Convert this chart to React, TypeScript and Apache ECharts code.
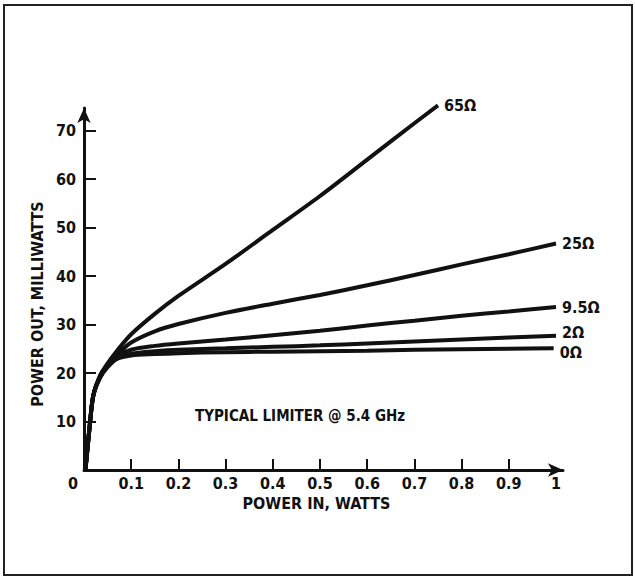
import React, { useEffect, useRef } from "react";
import * as echarts from "echarts";

const seriesNames = ["65Ω", "25Ω", "9.5Ω", "2Ω", "0Ω"];

const ohm65: [number, number][] = [
  [0.003, 0], [0.013, 10], [0.02, 15.5], [0.034, 19.5], [0.05, 22], [0.07, 24.6],
  [0.1, 28], [0.15, 32.2], [0.2, 35.9], [0.3, 42.5], [0.4, 49.5], [0.5, 56.5],
  [0.6, 64], [0.7, 71.5], [0.75, 75.2],
];
const ohm25: [number, number][] = [
  [0.003, 0], [0.013, 10], [0.02, 15.5], [0.034, 19.3], [0.05, 21.7], [0.07, 23.8],
  [0.1, 26.3], [0.15, 28.6], [0.2, 30.1], [0.3, 32.4], [0.4, 34.3], [0.5, 36.1],
  [0.6, 38.1], [0.7, 40.2], [0.8, 42.4], [0.9, 44.5], [1.0, 46.7],
];
const ohm9_5: [number, number][] = [
  [0.003, 0], [0.013, 10], [0.02, 15.5], [0.034, 19.2], [0.05, 21.5], [0.07, 23.5],
  [0.1, 24.8], [0.15, 25.6], [0.2, 26.1], [0.3, 26.9], [0.4, 27.8], [0.5, 28.7],
  [0.6, 29.8], [0.7, 30.8], [0.8, 31.8], [0.9, 32.7], [1.0, 33.6],
];
const ohm2: [number, number][] = [
  [0.003, 0], [0.013, 10], [0.02, 15.5], [0.034, 19.1], [0.05, 21.4], [0.07, 23.2],
  [0.1, 24.0], [0.15, 24.5], [0.2, 24.8], [0.3, 25.1], [0.4, 25.4], [0.5, 25.7],
  [0.6, 26.1], [0.7, 26.5], [0.8, 26.9], [0.9, 27.3], [1.0, 27.7],
];
const ohm0: [number, number][] = [
  [0.003, 0], [0.013, 10], [0.02, 15.5], [0.034, 19.0], [0.05, 21.2], [0.07, 22.9],
  [0.1, 23.6], [0.15, 23.9], [0.2, 24.1], [0.3, 24.3], [0.4, 24.4], [0.5, 24.5],
  [0.6, 24.6], [0.7, 24.8], [0.8, 24.9], [0.9, 25.0], [0.995, 25.1],
];

const xTickValues = [0.1, 0.2, 0.3, 0.4, 0.5, 0.6, 0.7, 0.8, 0.9];
const xLabelValues = [0, 0.1, 0.2, 0.3, 0.4, 0.5, 0.6, 0.7, 0.8, 0.9, 1];
const yTickValues = [10, 20, 30, 40, 50, 60, 70];

const FONT = "'Liberation Sans Narrow', 'DejaVu Sans Condensed', 'Arial Narrow', sans-serif";
const INK = "#111";

export default function App() {
  const ref = useRef<HTMLDivElement>(null);
  useEffect(() => {
    document.body.style.margin = "0";
    if (!ref.current) return;
    const chart = echarts.init(ref.current, undefined, { renderer: "svg" });
    const allData = [ohm65, ohm25, ohm9_5, ohm2, ohm0];
    const labelOffsets: [number, number][] = [[0, 0], [0, 0], [0, 0], [0, -3], [0, 4]];
    chart.setOption({
      animation: false,
      backgroundColor: "#fff",
      grid: { left: 84, right: 72, top: 108, bottom: 109, containLabel: false },
      xAxis: {
        type: "value",
        min: 0,
        max: 1.0148,
        name: "POWER IN, WATTS",
        nameLocation: "middle",
        nameGap: 24,
        nameTextStyle: { fontFamily: FONT, fontWeight: "bold", fontSize: 16, color: INK, padding: [0, 14, 0, 0] },
        splitLine: { show: false },
        axisLine: {
          show: true,
          onZero: false,
          symbol: ["none", "arrow"],
          symbolSize: [10, 15],
          lineStyle: { color: INK, width: 3 },
        },
        axisTick: { show: true, inside: true, length: 11, customValues: xTickValues, lineStyle: { color: INK, width: 2 } },
        axisLabel: {
          customValues: xLabelValues,
          margin: 5,
          fontFamily: FONT,
          fontWeight: "bold",
          fontSize: 16,
          color: INK,
          formatter: (v: number) => (v === 0 ? "{o|0}" : String(v)),
          rich: { o: { padding: [0, 22, 0, 0], fontFamily: FONT, fontWeight: "bold", fontSize: 16, color: INK } },
        },
      },
      yAxis: {
        type: "value",
        min: 0,
        max: 74.65,
        name: "POWER OUT, MILLIWATTS",
        nameLocation: "middle",
        nameGap: 36,
        nameRotate: 90,
        nameTextStyle: { fontFamily: FONT, fontWeight: "bold", fontSize: 16, color: INK, padding: [0, 30, 0, 0] },
        splitLine: { show: false },
        axisLine: {
          show: true,
          symbol: ["none", "arrow"],
          symbolSize: [10, 15],
          lineStyle: { color: INK, width: 3 },
        },
        axisTick: { show: true, inside: true, length: 12, customValues: yTickValues, lineStyle: { color: INK, width: 2 } },
        axisLabel: {
          customValues: yTickValues,
          margin: 8,
          fontFamily: FONT,
          fontWeight: "bold",
          fontSize: 16,
          color: INK,
        },
      },
      graphic: [
        {
          type: "rect",
          shape: { x: 4, y: 5, width: 628, height: 570 },
          style: { fill: "none", stroke: "#222", lineWidth: 2 },
          z: 0,
        },
        {
          type: "text",
          x: 195,
          y: 416,
          style: {
            text: "TYPICAL LIMITER @ 5.4 GHz",
            fontFamily: FONT,
            fontWeight: "bold",
            fontSize: 15,
            fill: INK,
            verticalAlign: "middle",
          },
        },
      ],
      series: allData.map((d, i) => ({
        name: seriesNames[i],
        type: "line",
        data: d,
        smooth: 0.3,
        showSymbol: false,
        symbol: "none",
        clip: false,
        lineStyle: { color: INK, width: 4 },
        endLabel: {
          show: true,
          formatter: seriesNames[i],
          distance: 6,
          offset: labelOffsets[i],
          fontFamily: FONT,
          fontWeight: "bold",
          fontSize: 16,
          color: INK,
        },
      })),
    });
    return () => chart.dispose();
  }, []);
  return <div ref={ref} style={{ width: 635, height: 579 }} />;
}
